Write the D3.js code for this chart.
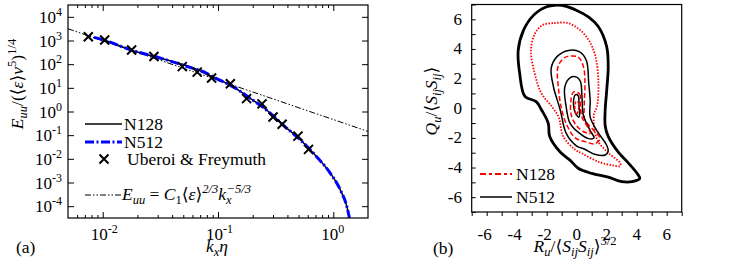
<!DOCTYPE html>
<html>
<head>
<meta charset="utf-8">
<script src="https://cdn.jsdelivr.net/npm/d3@7"></script>
<style>
  body { margin: 0; background: #fff; }
  .it { font-style: italic; }
</style>
</head>
<body>
<div id="chart"></div>
<script>
// ---- panel (a) data: spectra ----
var n512K = [0.0084, 0.0105, 0.0175, 0.03, 0.044, 0.06, 0.07, 0.098, 0.137, 0.19, 0.267, 0.37, 0.52, 0.72, 0.94, 1.15, 1.31, 1.38];
var n512E = [1350, 1000, 400, 195, 110, 68, 54, 24, 10.7, 3.6, 1.1, 0.26, 0.062, 0.012, 0.0025, 0.00049, 0.000098, 0.000032];
var n128K = [0.0084, 0.0105, 0.0175, 0.03, 0.044, 0.055, 0.065, 0.08, 0.098, 0.137, 0.19, 0.267, 0.37, 0.52, 0.72, 0.94, 1.15, 1.31, 1.38];
var n128E = [1350, 1000, 400, 190, 115, 82, 62, 38, 24, 10.7, 3.6, 1.1, 0.26, 0.062, 0.012, 0.0025, 0.00049, 0.000098, 0.000032];
var ufK = [0.0075, 0.0104, 0.0178, 0.0278, 0.049, 0.066, 0.088, 0.128, 0.177, 0.241, 0.30, 0.36, 0.494, 0.61];
var ufE = [1445, 1050, 400, 210, 79, 46, 26, 14.8, 3.5, 2.1, 0.59, 0.29, 0.091, 0.025];
var kolK = [0.005, 2];
var kolE = [3130, 0.144];
var xTicksA = [0.01, 0.1, 1];
var yTicksA = [-4, -3, -2, -1, 0, 1, 2, 3, 4];

// ---- panel (b) data: joint PDF contours (R, Q) ----
var n512Outer = [[-2.0,6.85],[-1.0,6.95],[-0.1,6.65],[0.8,6.15],[1.45,5.5],[2.0,4.15],[2.1,2.8],[2.0,1.2],[1.9,-0.1],[1.9,-1.2],[2.1,-1.9],[2.8,-3.0],[3.45,-3.7],[4.1,-4.5],[4.2,-4.75],[3.7,-4.95],[3.0,-4.95],[2.1,-4.65],[1.0,-4.4],[0.1,-4.05],[-0.45,-3.5],[-1.1,-2.95],[-1.8,-1.9],[-1.9,-1.0],[-2.35,-0.1],[-2.7,0.45],[-3.45,0.8],[-3.8,2.35],[-3.9,3.9],[-3.55,5.25],[-2.9,6.25]];
var n512Mid = [[-0.55,3.9],[0.2,3.8],[0.65,3.2],[0.8,1.7],[0.9,0.5],[0.9,-0.6],[1.4,-1.6],[2.0,-2.5],[2.1,-2.9],[1.9,-3.15],[1.2,-3.1],[0.5,-2.75],[0.0,-2.55],[-0.7,-1.7],[-1.1,-0.1],[-1.55,1.45],[-1.7,2.7],[-1.3,3.5]];
var n512Inner = [[-0.45,2.05],[0.0,2.1],[0.25,1.8],[0.35,0.8],[0.45,-0.5],[0.9,-1.5],[1.15,-2.0],[0.8,-2.05],[0.2,-1.7],[-0.45,-1.0],[-0.7,0.1],[-0.8,1.4]];
var n512Core = [[-0.1,0.9],[0.1,0.85],[0.15,0.2],[0.2,-0.3],[0.15,-0.6],[-0.05,-0.4],[-0.2,0.1],[-0.2,0.6]];
var n128Outer = [[-2.3,5.6],[-1.5,5.75],[-0.6,5.75],[0.2,5.3],[0.8,4.6],[1.25,3.5],[1.45,1.7],[1.35,0.1],[1.15,-0.4],[1.35,-2.1],[2.1,-3.0],[2.9,-3.7],[2.9,-3.9],[2.4,-3.85],[1.55,-3.65],[0.35,-3.05],[-0.1,-2.8],[-0.9,-1.9],[-1.2,-0.6],[-1.65,0.1],[-2.35,1.0],[-2.8,2.35],[-3.05,3.9],[-2.8,5.0]];
var n128Mid = [[-0.6,3.5],[0.1,3.45],[0.45,2.8],[0.55,1.7],[0.5,0.1],[0.55,-0.8],[1.1,-1.45],[1.55,-2.05],[1.2,-2.4],[0.55,-2.25],[-0.1,-2.0],[-0.65,-1.15],[-1.0,-0.1],[-1.2,1.2],[-1.25,2.8],[-0.9,3.35]];
var n128Inner = [[-0.2,1.1],[0.2,0.95],[0.25,0.2],[0.35,-0.6],[0.75,-1.3],[0.9,-1.7],[0.5,-1.6],[0.0,-1.2],[-0.35,-0.5],[-0.4,0.4]];
var n128Core = [[-0.05,0.45],[0.1,0.4],[0.1,-0.2],[0.0,-0.4],[-0.1,-0.2],[-0.12,0.2]];
var ticksB = [-6, -4, -2, 0, 2, 4, 6];

var svg = d3.select("#chart").append("svg").attr("width", 747).attr("height", 274)
  .attr("font-family", "'Liberation Serif', 'Times New Roman', 'DejaVu Serif', serif");

// ================= panel (a) =================
var xA = d3.scaleLog().domain([0.005, 2]).range([68, 368]);
var yA = d3.scaleLog().domain([Math.pow(10, -4.5), Math.pow(10, 4.5)]).range([218, 5]);

var minorA = [];
[-3, -2, -1, 0].forEach(function(d) {
  for (var m = 2; m <= 9; m++) {
    var v = m * Math.pow(10, d);
    if (v > 0.005 && v < 2) minorA.push(v);
  }
});
var yMajorA = yTicksA.map(function(p) { return Math.pow(10, p); });

function noDomain(g) { g.select(".domain").remove(); }

svg.append("g").attr("transform", "translate(0,218)")
  .call(d3.axisBottom(xA).tickValues(minorA).tickSize(-3).tickFormat("")).call(noDomain);
svg.append("g").attr("transform", "translate(0,218)")
  .call(d3.axisBottom(xA).tickValues(xTicksA).tickSize(-6).tickFormat("")).call(noDomain);
svg.append("g").attr("transform", "translate(0,5)")
  .call(d3.axisTop(xA).tickValues(minorA).tickSize(-3).tickFormat("")).call(noDomain);
svg.append("g").attr("transform", "translate(0,5)")
  .call(d3.axisTop(xA).tickValues(xTicksA).tickSize(-6).tickFormat("")).call(noDomain);
svg.append("g").attr("transform", "translate(68,0)")
  .call(d3.axisLeft(yA).tickValues(yMajorA).tickSize(-6).tickFormat("")).call(noDomain);
svg.append("g").attr("transform", "translate(368,0)")
  .call(d3.axisRight(yA).tickValues(yMajorA).tickSize(-6).tickFormat("")).call(noDomain);

// x tick labels
xTicksA.forEach(function(v) {
  var t = svg.append("text").attr("x", xA(v) - 12).attr("y", 240).attr("font-size", 17);
  t.append("tspan").text("10");
  t.append("tspan").attr("dy", -7).attr("font-size", 12).text(Math.round(Math.log10(v)));
});
// y tick labels
yTicksA.forEach(function(p) {
  var t = svg.append("text").attr("x", 62).attr("y", yA(Math.pow(10, p)) + 6)
    .attr("text-anchor", "end").attr("font-size", 17);
  t.append("tspan").text("10");
  t.append("tspan").attr("dy", -7).attr("font-size", 12).text(p);
});

svg.append("clipPath").attr("id", "clipA").append("rect")
  .attr("x", 68).attr("y", 5).attr("width", 300).attr("height", 213);

var gA = svg.append("g").attr("clip-path", "url(#clipA)");
var lineA = d3.line().x(function(d) { return xA(d[0]); }).y(function(d) { return yA(d[1]); });
var lineAs = d3.line().curve(d3.curveMonotoneX).x(function(d) { return xA(d[0]); }).y(function(d) { return yA(d[1]); });

gA.append("path").datum(d3.zip(kolK, kolE)).attr("d", lineA)
  .attr("fill", "none").attr("stroke", "#000").attr("stroke-width", 1)
  .attr("stroke-dasharray", "6,2,1.5,2,1.5,2");
gA.append("path").datum(d3.zip(n128K, n128E)).attr("d", lineAs)
  .attr("fill", "none").attr("stroke", "#000").attr("stroke-width", 1.5);
gA.append("path").datum(d3.zip(n512K, n512E)).attr("d", lineAs)
  .attr("fill", "none").attr("stroke", "#0000ff").attr("stroke-width", 3)
  .attr("stroke-dasharray", "9,2.5,2,2.5");

var crossPath = "M-4.5,-4.5L4.5,4.5M-4.5,4.5L4.5,-4.5";
gA.selectAll(".uf").data(d3.zip(ufK, ufE)).enter().append("path")
  .attr("class", "uf")
  .attr("transform", function(d) { return "translate(" + xA(d[0]) + "," + yA(d[1]) + ")"; })
  .attr("d", crossPath).attr("stroke", "#000").attr("stroke-width", 2).attr("fill", "none");

svg.append("rect").attr("x", 68).attr("y", 5).attr("width", 300).attr("height", 213)
  .attr("fill", "none").attr("stroke", "#000").attr("stroke-width", 1.2);

// legend (a)
svg.append("line").attr("x1", 85).attr("x2", 122).attr("y1", 124).attr("y2", 124)
  .attr("stroke", "#000").attr("stroke-width", 1.5);
svg.append("text").attr("x", 124).attr("y", 130).attr("font-size", 17.5).text("N128");
svg.append("line").attr("x1", 85).attr("x2", 122).attr("y1", 142).attr("y2", 142)
  .attr("stroke", "#0000ff").attr("stroke-width", 3).attr("stroke-dasharray", "9,2.5,2,2.5");
svg.append("text").attr("x", 124).attr("y", 148).attr("font-size", 17.5).text("N512");
svg.append("path").attr("transform", "translate(104,159)").attr("d", crossPath)
  .attr("stroke", "#000").attr("stroke-width", 2);
svg.append("text").attr("x", 127).attr("y", 165).attr("font-size", 17.5).text("Uberoi & Freymuth");
svg.append("line").attr("x1", 85).attr("x2", 122).attr("y1", 195).attr("y2", 195)
  .attr("stroke", "#000").attr("stroke-width", 1).attr("stroke-dasharray", "6,2,1.5,2,1.5,2");
var kt = svg.append("text").attr("x", 122).attr("y", 200).attr("font-size", 17.5);
kt.append("tspan").attr("class", "it").text("E");
kt.append("tspan").attr("class", "it").attr("dy", 4).attr("font-size", 12.5).text("uu");
kt.append("tspan").attr("dy", -4).text(" = ");
kt.append("tspan").attr("class", "it").text("C");
kt.append("tspan").attr("dy", 4).attr("font-size", 12.5).text("1");
kt.append("tspan").attr("dy", -4).text("⟨");
kt.append("tspan").attr("class", "it").text("ε");
kt.append("tspan").text("⟩");
kt.append("tspan").attr("dy", -7).attr("font-size", 12.5).attr("class", "it").text("2/3");
kt.append("tspan").attr("dy", 7).attr("class", "it").text("k");
kt.append("tspan").attr("class", "it").attr("dy", 4).attr("font-size", 12.5).text("x");
kt.append("tspan").attr("dx", -5).attr("dy", -11).attr("font-size", 12.5).attr("class", "it").text("−5/3");

// axis titles (a)
var xl = svg.append("text").attr("x", 217).attr("y", 252).attr("text-anchor", "middle").attr("font-size", 17.5);
xl.append("tspan").attr("class", "it").text("k");
xl.append("tspan").attr("class", "it").attr("dy", 4).attr("font-size", 12.5).text("x");
xl.append("tspan").attr("class", "it").attr("dy", -4).text("η");

var yl = svg.append("text").attr("transform", "translate(23,84) rotate(-90)")
  .attr("text-anchor", "middle").attr("font-size", 17.5);
yl.append("tspan").attr("class", "it").text("E");
yl.append("tspan").attr("class", "it").attr("dy", 4).attr("font-size", 12.5).text("uu");
yl.append("tspan").attr("dy", -4).text("/(⟨");
yl.append("tspan").attr("class", "it").text("ε");
yl.append("tspan").text("⟩");
yl.append("tspan").attr("class", "it").text("ν");
yl.append("tspan").attr("dy", -7).attr("font-size", 12.5).text("5");
yl.append("tspan").attr("dy", 7).text(")");
yl.append("tspan").attr("dy", -7).attr("font-size", 12.5).text("1/4");

svg.append("text").attr("x", 16).attr("y", 253).attr("font-size", 17.5).text("(a)");

// ================= panel (b) =================
var xB = d3.scaleLinear().domain([-7, 7]).range([471.7, 681.7]);
var yB = d3.scaleLinear().domain([-7, 7]).range([212, 4.5]);
var unitB = d3.range(-7, 8);

svg.append("g").attr("transform", "translate(0,212)")
  .call(d3.axisBottom(xB).tickValues(unitB).tickSize(4).tickFormat("")).call(noDomain);
svg.append("g").attr("transform", "translate(471.7,0)")
  .call(d3.axisLeft(yB).tickValues(unitB).tickSize(-4).tickFormat("")).call(noDomain);

ticksB.forEach(function(v) {
  svg.append("text").attr("x", xB(v) - (v < 0 ? 2 : 0)).attr("y", 240)
    .attr("text-anchor", "middle").attr("font-size", 17).text(v < 0 ? "-" + (-v) : v);
  svg.append("text").attr("x", 462).attr("y", yB(v) + 5.5)
    .attr("text-anchor", "end").attr("font-size", 17).text(v < 0 ? "-" + (-v) : v);
});

svg.append("clipPath").attr("id", "clipB").append("rect")
  .attr("x", 471.7).attr("y", 4.5).attr("width", 210).attr("height", 207.5);
var gB = svg.append("g").attr("clip-path", "url(#clipB)");
var lineB = d3.line().curve(d3.curveCatmullRomClosed).x(function(d) { return xB(d[0]); }).y(function(d) { return yB(d[1]); });

function contour(pts, color, width, dash) {
  var p = gB.append("path").datum(pts).attr("d", lineB)
    .attr("fill", "none").attr("stroke", color).attr("stroke-width", width);
  if (dash) p.attr("stroke-dasharray", dash);
}
contour(n512Outer, "#000", 2.8, null);
contour(n128Outer, "#ff0000", 1.8, "1.5,1.5");
contour(n512Mid, "#000", 1.5, null);
contour(n128Mid, "#ff0000", 1.5, "5,2.5");
contour(n512Inner, "#000", 1.5, null);
contour(n128Inner, "#ff0000", 1.5, "5,2.5");
contour(n512Core, "#000", 1.5, null);
contour(n128Core, "#ff0000", 1.5, "3,1.5");

svg.append("rect").attr("x", 471.7).attr("y", 4.5).attr("width", 210).attr("height", 207.5)
  .attr("fill", "none").attr("stroke", "#000").attr("stroke-width", 1.2);

// legend (b)
svg.append("line").attr("x1", 480).attr("x2", 512).attr("y1", 174).attr("y2", 174)
  .attr("stroke", "#ff0000").attr("stroke-width", 1.8).attr("stroke-dasharray", "6,3,3,3");
svg.append("text").attr("x", 516).attr("y", 180).attr("font-size", 17.5).text("N128");
svg.append("line").attr("x1", 480).attr("x2", 512).attr("y1", 197).attr("y2", 197)
  .attr("stroke", "#000").attr("stroke-width", 1.5);
svg.append("text").attr("x", 516).attr("y", 203).attr("font-size", 17.5).text("N512");

// axis titles (b)
var xlb = svg.append("text").attr("x", 575).attr("y", 252).attr("text-anchor", "middle").attr("font-size", 17.5);
xlb.append("tspan").attr("class", "it").text("R");
xlb.append("tspan").attr("class", "it").attr("dy", 4).attr("font-size", 12.5).text("u");
xlb.append("tspan").attr("dy", -4).text("/⟨");
xlb.append("tspan").attr("class", "it").text("S");
xlb.append("tspan").attr("class", "it").attr("dy", 4).attr("font-size", 12.5).text("ij");
xlb.append("tspan").attr("class", "it").attr("dy", -4).text("S");
xlb.append("tspan").attr("class", "it").attr("dy", 4).attr("font-size", 12.5).text("ij");
xlb.append("tspan").attr("dy", -4).text("⟩");
xlb.append("tspan").attr("dy", -7).attr("font-size", 12.5).text("3/2");

var ylb = svg.append("text").attr("transform", "translate(437,101) rotate(-90)")
  .attr("text-anchor", "middle").attr("font-size", 17.5);
ylb.append("tspan").attr("class", "it").text("Q");
ylb.append("tspan").attr("class", "it").attr("dy", 4).attr("font-size", 12.5).text("u");
ylb.append("tspan").attr("dy", -4).text("/⟨");
ylb.append("tspan").attr("class", "it").text("S");
ylb.append("tspan").attr("class", "it").attr("dy", 4).attr("font-size", 12.5).text("ij");
ylb.append("tspan").attr("class", "it").attr("dy", -4).text("S");
ylb.append("tspan").attr("class", "it").attr("dy", 4).attr("font-size", 12.5).text("ij");
ylb.append("tspan").attr("dy", -4).text("⟩");

svg.append("text").attr("x", 433).attr("y", 254).attr("font-size", 17.5).text("(b)");
</script>
</body>
</html>
